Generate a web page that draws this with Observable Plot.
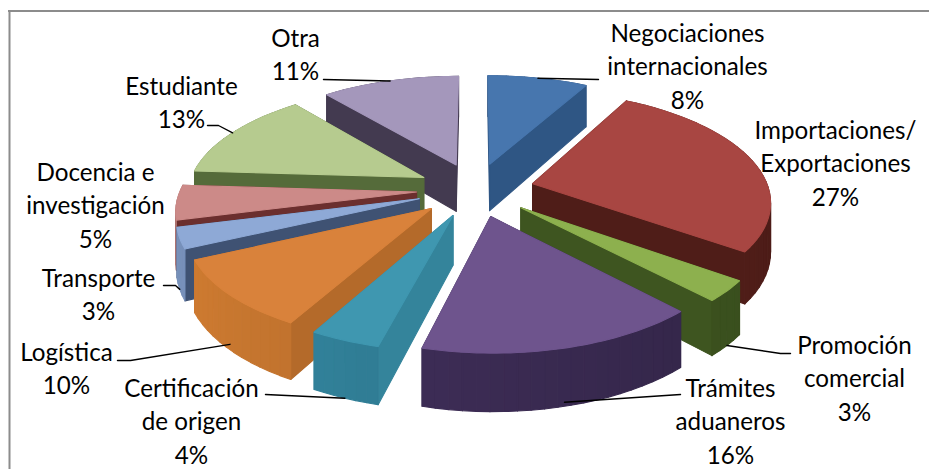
<!DOCTYPE html>
<html><head><meta charset="utf-8">
<style>html,body{margin:0;padding:0;background:#fff}svg{display:block}</style>
<script src="https://cdn.jsdelivr.net/npm/d3@7"></script>
<script src="https://cdn.jsdelivr.net/npm/@observablehq/plot@0.6"></script>
</head><body><div id="c"></div>
<script>
// data
const categories = ["Negociaciones\ninternacionales","Importaciones/\nExportaciones","Promoción\ncomercial","Trámites\naduaneros","Certificación\nde origen","Logística","Transporte","Docencia e\ninvestigación","Estudiante","Otra"];
const shares = [8,27,3,16,4,10,3,5,13,11];
// style
const topColors   = ["#4776ae","#a84642","#8db04e","#6e548d","#3f97b0","#d9823b","#8ea9d6","#cc8a88","#b6cb8f","#a497bb"];
const outerColors = ["#2f5380","#551f1a","#3e5520","#38294f","#2c7389","#ad6729","#64799c","#8f5e5c","#4f6536","#433a50"];
const radialColors= ["#2f5684","#4f1d18","#3e5520","#32274c","#34849b","#b46a2a","#3f5273","#6b2f2e","#556b3a","#433a50"];
// layout of the labels (chart units = px)
const labelX = [687,835,854,730,191,66,98,95,181,295];
const labelY = [64,161,376,419,419,366,292,203,100,52];
const elbowX = [598,null,790,680,265,117,163,null,207,323];
const elbowY = [79,null,353,394,394,360,285,null,125,79];
const kneeX  = [598,null,780,665,265,130,175,null,218,323];
const kneeY  = [79,null,353,395,394,360,285,null,125,79];
const wallFrac=[0,null,1,0.93,1,0.9,1,null,0,0];
// pie geometry
const cx=475, cy=189, R=236, T=108, H=48, k=0.145, ex=0.25;
const project=(u,v,z)=>{const s=1/(1-k*v);return [cx+R*u*s, cy+T*v*s+H*z*s];};
let cum=0;
const slices=shares.map((p,i)=>{const a0=cum/100*2*Math.PI;cum+=p;const a1=cum/100*2*Math.PI;const m=(a0+a1)/2;
  return {i,a0,a1,m,ou:ex*Math.sin(m),ov:-ex*Math.cos(m)};});
const pt=(s,a,r,z)=>project(s.ou+r*Math.sin(a),s.ov-r*Math.cos(a),z);
const depth=(s,a,r)=>s.ov-r*Math.cos(a);
const rows=[];let fid=0;
const addFace=(poly,color)=>{const id=fid++;poly.forEach(p=>rows.push({x:p[0],y:p[1],id,color}));};
[...slices].sort((a,b)=>a.ov-b.ov).forEach(s=>{
  const faces=[];
  const n=Math.max(4,Math.ceil((s.a1-s.a0)/0.05));
  const radial=(a)=>faces.push({d:depth(s,a,0.5),c:radialColors[s.i],poly:[pt(s,a,0,0),pt(s,a,1,0),pt(s,a,1,1),pt(s,a,0,1)]});
  radial(s.a0);radial(s.a1);
  for(let j=0;j<n;j++){const b0=s.a0+(s.a1-s.a0)*j/n,b1=s.a0+(s.a1-s.a0)*(j+1)/n;
    const shade=0.4*(-Math.sin((b0+b1)/2)+0.3);
    faces.push({d:depth(s,(b0+b1)/2,1),c:d3.color(outerColors[s.i]).brighter(shade).formatHex(),poly:[pt(s,b0,1,0),pt(s,b1,1,0),pt(s,b1,1,1),pt(s,b0,1,1)]});}
  faces.sort((a,b)=>a.d-b.d).forEach(f=>addFace(f.poly,f.c));
  const top=[pt(s,s.a0,0,0)];
  for(let j=0;j<=n*2;j++) top.push(pt(s,s.a0+(s.a1-s.a0)*j/(n*2),1,0));
  addFace(top,topColors[s.i]);
});
// leader lines
const leaders=[];
slices.forEach(s=>{ if(elbowX[s.i]==null) return;
  const e=pt(s,s.m,1,wallFrac[s.i]);
  [[elbowX[s.i],elbowY[s.i]],[kneeX[s.i],kneeY[s.i]],e].forEach(p=>leaders.push({x:p[0],y:p[1],id:s.i}));
});
const labels=categories.map((c,i)=>({text:c+"\n"+shares[i]+"%",x:labelX[i],y:labelY[i]}));
const chart=Plot.plot({
  width:929,height:469,margin:0,
  x:{domain:[0,929],axis:null},
  y:{domain:[469,0],axis:null},
  marks:[
    Plot.ruleY([10.5],{x1:8,x2:929,stroke:"#8c8c8c",strokeWidth:2}),
    Plot.ruleX([9],{y1:10,y2:469,stroke:"#8c8c8c",strokeWidth:2}),
    Plot.line(rows,{x:"x",y:"y",z:"id",fill:"color",stroke:"color",strokeWidth:1.1,curve:"linear-closed"}),
    Plot.line(leaders,{x:"x",y:"y",z:"id",stroke:"#000",strokeWidth:1.4}),
    Plot.text(labels,{x:"x",y:"y",text:"text",fontSize:24.2,lineHeight:1.38,fill:"#000",fontFamily:"Lato"})
  ]
});
document.getElementById("c").appendChild(chart);
</script></body></html>
